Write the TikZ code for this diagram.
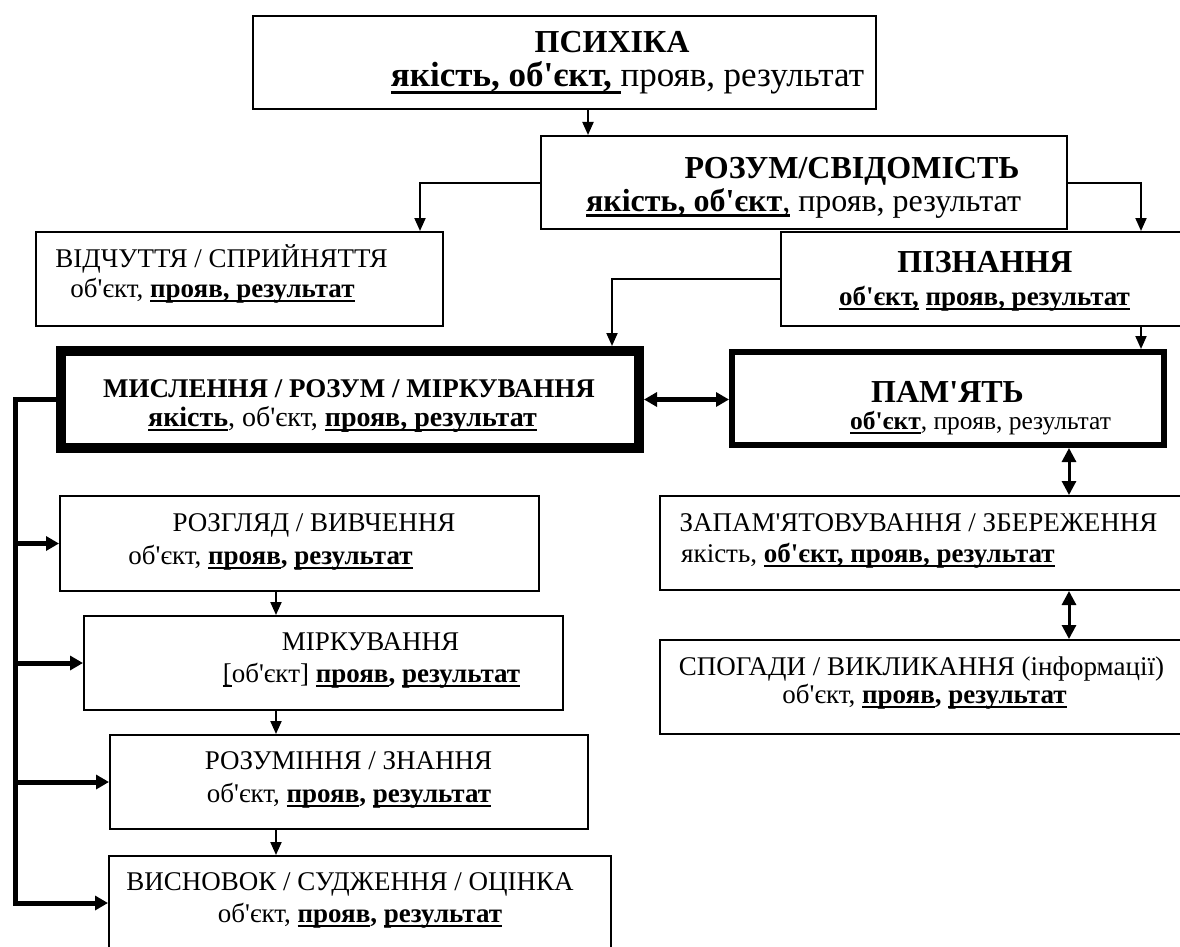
\documentclass[tikz,border=0pt]{standalone}
\usepackage{fontspec}
\setmainfont{Liberation Serif}[Ligatures=TeXOff]
\usepackage{tikz}
\usetikzlibrary{arrows.meta}
\usetikzlibrary{positioning}
\tikzset{>={Triangle[length=13pt,width=11pt]}}
\tikzstyle{blk} = [rectangle, draw=black, line width=2pt, inner sep=0pt]
\tikzstyle{ttl} = [anchor=base, inner sep=0pt, font=\fontsize{32}{34}\selectfont\bfseries]
\tikzstyle{big} = [anchor=base, inner sep=0pt, font=\fontsize{32}{34}\selectfont]
\tikzstyle{txt} = [anchor=base, inner sep=0pt, font=\fontsize{27}{30}\selectfont]
\tikzstyle{lnk} = [->, line width=2pt]
\tikzstyle{bus} = [->, line width=5pt, >={Triangle[length=13pt,width=14pt]}]
\tikzstyle{mlnk} = [<->, line width=3pt, >={Triangle[length=14pt,width=14pt]}]
\newcommand{\uln}[1]{\setbox0=\hbox{#1}\rlap{\rule[-0.19em]{\wd0}{0.085em}}\box0\relax}

\begin{document}
\begin{tikzpicture}[x=1pt, y=-1pt]
 \useasboundingbox (0,0) rectangle (1180,947);
 \clip (0,0) rectangle (1180,947);
 % boxes
 \node [blk, minimum width=623, minimum height=93] (psy) at (564.5,62.5) {};
 \node [blk, minimum width=526, minimum height=93] (mind) at (804,182.5) {};
 \node [blk, minimum width=407, minimum height=94] (sens) at (239.5,279) {};
 \node [blk, minimum width=418, minimum height=94] (cog) at (990,279) {};
 \node [blk, line width=10pt, minimum width=578, minimum height=97] (think) at (350,399.5) {};
 \node [blk, line width=6pt, minimum width=432, minimum height=93] (mem) at (948,398.5) {};
 \node [blk, minimum width=479, minimum height=95] (exam) at (299.5,543.5) {};
 \node [blk, minimum width=479, minimum height=94] (reas) at (323.5,663) {};
 \node [blk, minimum width=478, minimum height=94] (und) at (349,782) {};
 \node [blk, minimum width=502, minimum height=94] (concl) at (360,903) {};
 \node [blk, minimum width=539, minimum height=94] (store) at (929.5,543) {};
 \node [blk, minimum width=539, minimum height=94] (recall) at (929.5,687) {};
 % texts
 \node [ttl] (psyA) at (612,53) {ПСИХІКА};
 \node [big, font=\fontsize{35}{38}\selectfont] (psyB) at (627.5,87) {\textbf{\uln{якість, об'єкт,\ }}прояв, результат};
 \node [ttl] (mindA) at (852,178) {РОЗУМ/СВІДОМІСТЬ};
 \node [big] (mindB) at (803.5,211) {\uln{\textbf{якість, об'єкт},} прояв, результат};
 \node [txt] (sensA) at (221.5,267) {ВІДЧУТТЯ / СПРИЙНЯТТЯ};
 \node [txt] (sensB) at (212.5,297) {об'єкт, \textbf{\uln{прояв, результат}}};
 \node [ttl] (cogA) at (985,272) {ПІЗНАННЯ};
 \node [txt, font=\fontsize{27}{30}\selectfont\bfseries] (cogB) at (984.5,305) {\uln{об'єкт,} \uln{прояв, результат}};
 \node [txt, font=\fontsize{27}{30}\selectfont\bfseries] (thinkA) at (349,397) {МИСЛЕННЯ / РОЗУМ / МІРКУВАННЯ};
 \node [txt, font=\fontsize{28}{30}\selectfont] (thinkB) at (342.5,426) {\textbf{\uln{якість}}, об'єкт, \textbf{\uln{прояв, результат}}};
 \node [ttl] (memA) at (947.5,402) {ПАМ'ЯТЬ};
 \node [txt, font=\fontsize{25.5}{30}\selectfont] (memB) at (980.5,429) {\textbf{\uln{об'єкт}}, прояв, результат};
 \node [txt] (examA) at (314,531) {РОЗГЛЯД / ВИВЧЕННЯ};
 \node [txt] (examB) at (270.5,564) {об'єкт, \textbf{\uln{прояв}, \uln{результат}}};
 \node [txt] (reasA) at (370.5,650) {МІРКУВАННЯ};
 \node [txt] (reasB) at (371.5,682) {\uln{[}об'єкт] \textbf{\uln{прояв}, \uln{результат}}};
 \node [txt] (undA) at (348.5,769) {РОЗУМІННЯ / ЗНАННЯ};
 \node [txt] (undB) at (349,802) {об'єкт, \textbf{\uln{прояв}, \uln{результат}}};
 \node [txt] (conclA) at (350,890) {ВИСНОВОК / СУДЖЕННЯ / ОЦІНКА};
 \node [txt] (conclB) at (360,922) {об'єкт, \textbf{\uln{прояв}, \uln{результат}}};
 \node [txt] (storeA) at (918.5,531) {ЗАПАМ'ЯТОВУВАННЯ / ЗБЕРЕЖЕННЯ};
 \node [txt, anchor=base west] (storeB) at (681,562) {якість, \textbf{\uln{об'єкт, прояв, результат}}};
 \node [txt] (recallA) at (921.5,675) {СПОГАДИ / ВИКЛИКАННЯ (інформації)};
 \node [txt] (recallB) at (924.5,703) {об'єкт, \textbf{\uln{прояв}, \uln{результат}}};
 % connectors
 \coordinate (k1) at (588,0);
 \coordinate (k2) at (420,0);
 \coordinate (k3) at (1141,0);
 \coordinate (k4) at (612,0);
 \coordinate (k5) at (276,0);
 \coordinate (k6) at (1069,0);
 \coordinate (busB) at (15,903);
 \draw [lnk] (psy.south -| k1) -- (mind.north -| k1);
 \draw [lnk] (mind.west) -| (k2 |- sens.north);
 \draw [lnk] (mind.east) -| (k3 |- cog.north);
 \draw [lnk] (cog.west) -| (k4 |- think.north);
 \draw [lnk] (cog.south -| k3) -- (mem.north -| k3);
 \draw [bus, <->] (think.east) -- (think.east -| mem.west);
 \draw [mlnk] (mem.south -| k6) -- (store.north -| k6);
 \draw [mlnk] (store.south -| k6) -- (recall.north -| k6);
 \draw [lnk] (exam.south -| k5) -- (reas.north -| k5);
 \draw [lnk] (reas.south -| k5) -- (und.north -| k5);
 \draw [lnk] (und.south -| k5) -- (concl.north -| k5);
 \draw [bus] (think.west) -| (busB) -- (concl.west);
 \draw [bus] (busB |- exam.west) -- (exam.west);
 \draw [bus] (busB |- reas.west) -- (reas.west);
 \draw [bus] (busB |- und.west) -- (und.west);
\end{tikzpicture}
\end{document}
